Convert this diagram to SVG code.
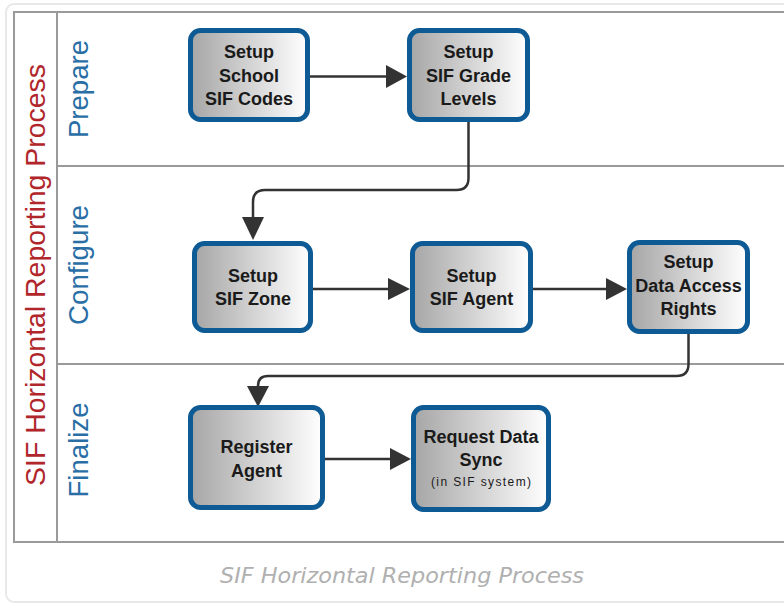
<svg xmlns="http://www.w3.org/2000/svg" width="784" height="604" viewBox="0 0 784 604">
<defs>
<linearGradient id="g" x1="0" y1="0" x2="1" y2="0">
<stop offset="0" stop-color="#a6a6a6"/>
<stop offset="1" stop-color="#ffffff"/>
</linearGradient>
<style>
.box{fill:url(#g);stroke:#0d5a94;stroke-width:5}
.t{font-family:"Liberation Sans",Arial,sans-serif;font-weight:bold;font-size:18px;fill:#1a1a1a;text-anchor:middle}
.s{font-family:"Liberation Sans",Arial,sans-serif;font-size:12px;fill:#1a1a1a;text-anchor:middle}
.ln{fill:none;stroke:#333;stroke-width:2.5}
.ah{fill:#333}
.lane{font-family:"Liberation Sans",Arial,sans-serif;font-size:27px;fill:#2a6ea6;text-anchor:middle}
.frame{fill:none;stroke:#9a9a9a;stroke-width:2}
</style>
</defs>
<rect x="0" y="0" width="784" height="604" fill="#fff"/>
<rect x="6" y="4" width="800" height="598" rx="8" fill="#fff" stroke="#e8e8e8" stroke-width="2"/>
<g id="frame">
<rect class="frame" x="14" y="12" width="790" height="530"/>
<line class="frame" x1="57" y1="12" x2="57" y2="542"/>
<line class="frame" x1="57" y1="166" x2="784" y2="166"/>
<line class="frame" x1="57" y1="364" x2="784" y2="364"/>
<text transform="translate(45,275) rotate(-90)" font-family="Liberation Sans,Arial,sans-serif" font-size="28" fill="#b0262b" text-anchor="middle" textLength="422" lengthAdjust="spacingAndGlyphs">SIF Horizontal Reporting Process</text>
<text class="lane" transform="translate(88,89) rotate(-90)" textLength="98" lengthAdjust="spacingAndGlyphs">Prepare</text>
<text class="lane" transform="translate(88,265) rotate(-90)" textLength="120" lengthAdjust="spacingAndGlyphs">Configure</text>
<text class="lane" transform="translate(88,450) rotate(-90)" textLength="95" lengthAdjust="spacingAndGlyphs">Finalize</text>
</g>
<g id="connectors">
<path class="ln" d="M310 76.5 H388"/>
<polygon class="ah" points="386,65 407,76.5 386,88"/>
<path class="ln" d="M468.5 122 V178 Q468.5 190 456.5 190 H265 Q253 190 253 202 V220"/>
<polygon class="ah" points="242,217 253,240 264,217"/>
<path class="ln" d="M313 289 H390"/>
<polygon class="ah" points="388,278 410,289 388,300"/>
<path class="ln" d="M533 289 H608"/>
<polygon class="ah" points="606,278 627,289 606,300"/>
<path class="ln" d="M688.5 334 V364 Q688.5 376 676.5 376 H268 Q258 376 258 386 V390"/>
<polygon class="ah" points="247,386 258,407 269,386"/>
<path class="ln" d="M325 459 H392"/>
<polygon class="ah" points="390,448 411,459 390,470"/>
</g>
<g id="n1">
<rect class="box" x="190.5" y="30.5" width="117" height="89" rx="10"/>
<text class="t" x="249" y="58">Setup</text>
<text class="t" x="249" y="82">School</text>
<text class="t" x="249" y="105">SIF Codes</text>
</g>
<g id="n2">
<rect class="box" x="409.5" y="30.5" width="118" height="89" rx="10"/>
<text class="t" x="468.5" y="58">Setup</text>
<text class="t" x="468.5" y="82">SIF Grade</text>
<text class="t" x="468.5" y="105">Levels</text>
</g>
<g id="n3">
<rect class="box" x="194.5" y="243.5" width="116" height="87" rx="10"/>
<text class="t" x="253" y="282">Setup</text>
<text class="t" x="253" y="305">SIF Zone</text>
</g>
<g id="n4">
<rect class="box" x="412.5" y="243.5" width="118" height="87" rx="10"/>
<text class="t" x="471.5" y="282">Setup</text>
<text class="t" x="471.5" y="305">SIF Agent</text>
</g>
<g id="n5">
<rect class="box" x="629.5" y="242.5" width="118" height="89" rx="10"/>
<text class="t" x="688.5" y="268">Setup</text>
<text class="t" x="688.5" y="292">Data Access</text>
<text class="t" x="688.5" y="315">Rights</text>
</g>
<g id="n6">
<rect class="box" x="190.5" y="407.5" width="132" height="100" rx="10"/>
<text class="t" x="256.5" y="453">Register</text>
<text class="t" x="256.5" y="477">Agent</text>
</g>
<g id="n7">
<rect class="box" x="413.5" y="407.5" width="135" height="102" rx="10"/>
<text class="t" x="481" y="443">Request Data</text>
<text class="t" x="481" y="466">Sync</text>
<text class="s" x="481" y="486" textLength="100" lengthAdjust="spacing">(in SIF system)</text>
</g>
<text x="402" y="583" font-family="DejaVu Sans Condensed,DejaVu Sans,sans-serif" font-style="italic" font-size="22" fill="#b0b0b0" text-anchor="middle" textLength="364" lengthAdjust="spacingAndGlyphs">SIF Horizontal Reporting Process</text>
</svg>
